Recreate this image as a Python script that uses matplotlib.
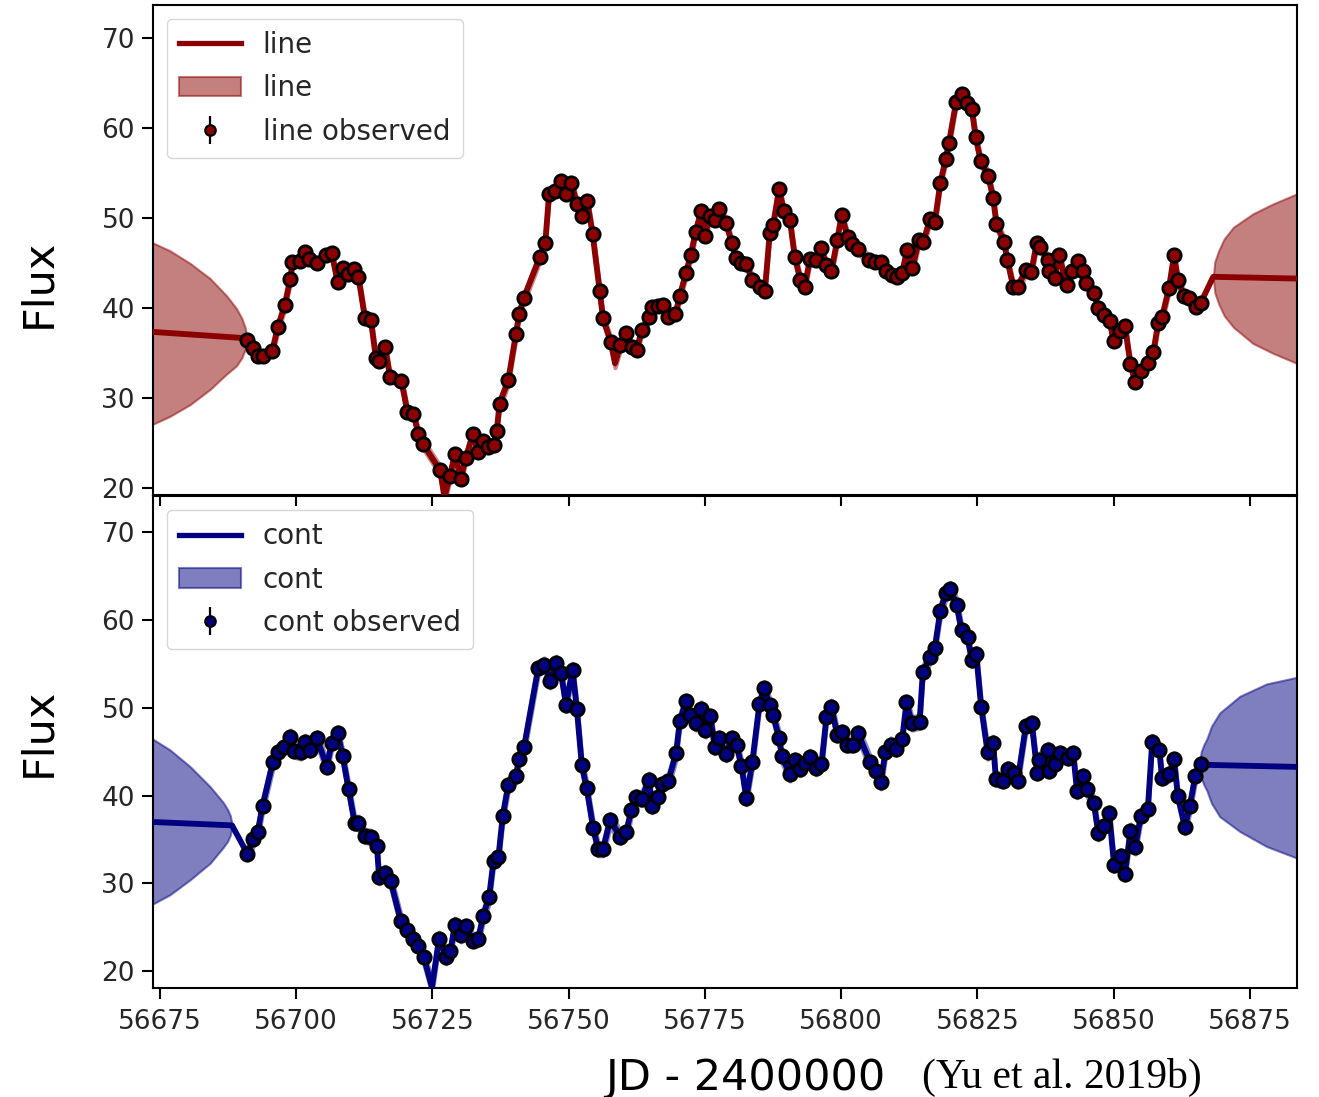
import numpy as np
import matplotlib
matplotlib.use("Agg")
import matplotlib.pyplot as plt
from matplotlib.lines import Line2D
from matplotlib.patches import Patch

# ---------------- observed light curves ----------------
line_t = [56691.0, 56692.1, 56692.9, 56693.8, 56695.6, 56696.6, 56697.9, 56698.9, 56699.3, 56700.6,
          56701.6, 56702.4, 56703.8, 56705.4, 56706.5, 56707.6, 56708.5, 56709.4, 56710.6, 56711.4,
          56712.6, 56713.7, 56714.6, 56715.2, 56716.3, 56717.2, 56719.3, 56720.4, 56721.5, 56722.4,
          56723.3, 56726.4, 56728.2, 56729.1, 56730.2, 56731.1, 56732.4, 56733.4, 56734.3, 56735.2,
          56736.2, 56736.8, 56737.3, 56738.9, 56740.3, 56740.9, 56741.8, 56744.7, 56745.7, 56746.4,
          56747.5, 56748.5, 56749.5, 56750.5, 56751.5, 56752.4, 56753.4, 56754.4, 56755.7, 56756.3,
          56757.7, 56759.5, 56760.5, 56761.6, 56762.5, 56763.4, 56764.8, 56765.3, 56766.4, 56767.3,
          56768.3, 56769.6, 56770.4, 56771.5, 56772.4, 56773.3, 56774.3, 56775.0, 56775.9, 56776.8,
          56777.6, 56778.9, 56779.9, 56780.7, 56781.7, 56782.6, 56783.7, 56785.1, 56786.0, 56786.9,
          56787.5, 56788.6, 56789.5, 56790.6, 56791.5, 56792.5, 56793.3, 56794.3, 56795.4, 56796.3,
          56797.3, 56798.2, 56799.3, 56800.1, 56801.2, 56802.0, 56803.1, 56805.1, 56806.2, 56807.3,
          56808.2, 56809.3, 56810.2, 56811.2, 56812.1, 56813.1, 56814.3, 56815.1, 56816.3, 56817.2,
          56818.2, 56819.2, 56819.8, 56821.1, 56822.1, 56823.1, 56824.0, 56824.7, 56825.6, 56827.0,
          56827.9, 56828.5, 56829.9, 56830.5, 56831.6, 56832.4, 56834.0, 56834.9, 56835.9, 56836.5,
          56838.0, 56838.2, 56839.2, 56840.0, 56841.4, 56842.4, 56843.4, 56844.4, 56845.0, 56846.4,
          56847.2, 56848.2, 56849.3, 56850.0, 56851.1, 56852.1, 56853.1, 56854.0, 56855.0, 56856.3,
          56857.3, 56858.2, 56858.9, 56860.2, 56861.1, 56861.8, 56862.9, 56863.9, 56865.1, 56866.0]
line_f = [36.5, 35.6, 34.7, 34.7, 35.3, 37.9, 40.4, 43.3, 45.1, 45.3,
          46.3, 45.5, 45.0, 45.9, 46.1, 42.9, 44.5, 43.8, 44.4, 43.5,
          38.9, 38.7, 34.5, 34.1, 35.7, 32.4, 31.9, 28.5, 28.3, 26.1,
          24.9, 22.0, 21.4, 23.8, 21.1, 23.4, 26.0, 24.0, 25.3, 24.6,
          24.8, 26.4, 29.4, 32.0, 37.1, 39.4, 41.2, 45.7, 47.3, 52.7,
          53.0, 54.1, 52.7, 53.9, 51.6, 50.3, 51.9, 48.2, 41.9, 38.9,
          36.3, 35.9, 37.3, 35.7, 35.4, 37.6, 39.0, 40.1, 40.3, 40.4,
          39.0, 39.4, 41.4, 43.9, 45.9, 48.5, 50.8, 48.0, 50.3, 49.8,
          51.0, 49.5, 47.3, 45.6, 45.0, 44.9, 43.2, 42.4, 41.9, 48.4,
          49.2, 53.2, 50.8, 49.8, 45.7, 43.2, 42.4, 45.5, 45.4, 46.7,
          44.8, 44.1, 47.6, 50.4, 47.9, 47.1, 46.6, 45.4, 45.1, 45.1,
          44.1, 43.7, 43.5, 43.9, 46.5, 44.5, 47.6, 47.4, 49.9, 49.6,
          53.9, 56.6, 58.4, 62.9, 63.8, 62.8, 62.1, 59.0, 56.4, 54.7,
          52.3, 49.4, 47.4, 45.4, 42.4, 42.4, 44.3, 44.0, 47.3, 46.8,
          45.4, 44.2, 43.4, 45.9, 42.6, 44.1, 45.3, 44.1, 42.8, 41.7,
          40.0, 39.3, 38.6, 36.4, 37.5, 38.0, 33.8, 31.8, 33.0, 33.9,
          35.1, 38.4, 39.0, 42.3, 45.9, 43.2, 41.4, 41.2, 40.1, 40.6]

cont_t = [56691.0, 56692.1, 56692.9, 56693.8, 56695.7, 56696.6, 56697.8, 56698.9, 56699.6, 56700.9,
          56701.6, 56702.5, 56703.8, 56705.6, 56706.5, 56707.6, 56708.5, 56709.6, 56710.7, 56711.4,
          56712.6, 56713.7, 56714.8, 56715.2, 56716.3, 56717.3, 56719.2, 56720.4, 56721.5, 56722.4,
          56723.4, 56726.2, 56727.5, 56728.3, 56729.1, 56730.2, 56731.1, 56732.4, 56733.4, 56734.3,
          56735.4, 56736.2, 56737.1, 56737.9, 56738.9, 56740.3, 56740.9, 56741.8, 56744.4, 56745.5,
          56746.6, 56747.7, 56748.6, 56749.5, 56750.7, 56751.5, 56752.4, 56753.3, 56754.5, 56755.4,
          56756.3, 56757.6, 56759.5, 56760.6, 56761.5, 56762.3, 56763.4, 56764.7, 56765.3, 56766.4,
          56767.2, 56768.3, 56769.7, 56770.4, 56771.5, 56772.3, 56773.3, 56774.3, 56775.1, 56776.0,
          56776.8, 56777.6, 56778.9, 56779.9, 56780.8, 56781.7, 56782.6, 56783.7, 56785.0, 56785.9,
          56786.9, 56787.5, 56788.6, 56789.1, 56790.6, 56791.5, 56792.5, 56793.3, 56794.3, 56795.4,
          56796.4, 56797.3, 56798.2, 56799.3, 56800.1, 56801.0, 56802.1, 56803.1, 56805.3, 56806.4,
          56807.3, 56808.1, 56809.1, 56810.1, 56811.2, 56812.0, 56813.0, 56814.4, 56815.0, 56816.3,
          56817.2, 56818.2, 56819.2, 56820.0, 56821.2, 56822.1, 56823.2, 56824.0, 56824.8, 56825.7,
          56826.9, 56827.9, 56828.4, 56829.8, 56830.6, 56831.7, 56832.4, 56833.9, 56835.0, 56836.0,
          56836.4, 56838.0, 56838.2, 56839.2, 56840.1, 56841.7, 56842.6, 56843.3, 56844.4, 56845.1,
          56846.4, 56847.2, 56848.2, 56849.2, 56850.1, 56851.3, 56852.1, 56853.1, 56854.0, 56855.0,
          56856.3, 56857.1, 56858.4, 56858.9, 56860.2, 56861.1, 56861.8, 56863.1, 56864.0, 56865.0,
          56866.0]
cont_f = [33.4, 35.0, 35.8, 38.8, 43.8, 45.0, 45.5, 46.7, 45.1, 44.9,
          46.1, 45.2, 46.5, 43.3, 46.0, 47.1, 44.5, 40.7, 36.9, 36.9,
          35.4, 35.3, 34.2, 30.7, 31.2, 30.3, 25.7, 24.7, 23.7, 22.9,
          21.6, 23.7, 21.6, 22.3, 25.3, 24.1, 25.1, 23.5, 23.7, 26.3,
          28.5, 32.6, 33.0, 37.7, 41.2, 42.2, 44.2, 45.5, 54.5, 54.9,
          53.0, 55.1, 53.9, 50.3, 54.3, 49.8, 43.5, 40.8, 36.3, 33.9,
          33.9, 37.2, 35.3, 35.9, 38.4, 39.8, 39.6, 41.8, 38.8, 39.8,
          41.3, 41.7, 44.8, 48.5, 50.7, 49.2, 48.2, 49.9, 47.4, 49.0,
          45.5, 46.5, 44.7, 46.5, 45.8, 43.4, 39.7, 43.8, 50.4, 52.2,
          50.3, 49.2, 46.6, 44.5, 42.4, 44.0, 43.0, 43.7, 44.4, 43.1,
          43.6, 48.9, 50.1, 46.9, 47.2, 45.8, 45.8, 47.1, 43.8, 42.8,
          41.5, 44.9, 45.8, 45.3, 46.4, 50.6, 48.2, 48.4, 54.0, 55.8,
          56.8, 61.0, 63.0, 63.5, 61.7, 58.8, 58.0, 55.4, 56.1, 50.1,
          44.9, 46.0, 41.9, 41.7, 43.0, 42.6, 41.7, 47.9, 48.2, 42.6,
          44.0, 45.2, 42.8, 43.6, 44.8, 44.3, 44.8, 40.5, 42.2, 40.7,
          39.1, 35.7, 36.5, 38.0, 32.1, 33.1, 31.1, 36.0, 34.1, 37.7,
          38.5, 46.1, 45.2, 42.0, 42.4, 44.1, 40.0, 36.4, 38.8, 42.2,
          43.6]

# ---------------- model curves outside / between the observations ----------------
line_pre_t = [56673.2, 56690.3]
line_pre_f = [37.4, 36.7]
line_post_t = [56868.3, 56884.0]
line_post_f = [43.5, 43.3]
line_dip_t = [56727.2, 56758.5]
line_dip_f = [19.0, 33.9]

cont_pre_t = [56673.2, 56688.2]
cont_pre_f = [37.0, 36.6]
cont_post_t = [56866.2, 56884.0]
cont_post_f = [43.5, 43.25]
cont_dip_t = [56724.9]
cont_dip_f = [18.2]

# uncertainty envelopes of the model before and after the monitoring season
line_band_l_t = [56673.2, 56676.8, 56680.5, 56684.2, 56687.2, 56689.0, 56690.0, 56690.6, 56691.0]
line_band_l_hi = [47.4, 46.4, 45.0, 43.3, 41.4, 40.0, 38.9, 37.9, 36.7]
line_band_l_lo = [27.0, 28.0, 29.3, 31.0, 32.7, 33.6, 34.5, 35.4, 36.5]
line_band_r_t = [56868.3, 56868.6, 56869.3, 56870.3, 56872.0, 56875.6, 56879.3, 56884.0]
line_band_r_hi = [43.5, 45.2, 46.4, 47.7, 49.0, 50.5, 51.6, 52.8]
line_band_r_lo = [43.4, 41.7, 40.5, 39.2, 37.9, 36.1, 35.0, 33.8]

cont_band_l_t = [56673.2, 56676.8, 56680.5, 56684.2, 56686.6, 56687.4, 56687.9, 56688.2]
cont_band_l_hi = [46.6, 45.2, 43.3, 41.0, 39.2, 38.4, 37.7, 36.7]
cont_band_l_lo = [27.5, 28.7, 30.4, 32.3, 34.1, 34.8, 35.5, 36.5]
cont_band_r_t = [56865.8, 56866.1, 56866.6, 56867.1, 56868.0, 56869.5, 56873.2, 56878.1, 56884.0]
cont_band_r_hi = [43.7, 45.0, 45.8, 46.4, 47.9, 49.4, 51.3, 52.7, 53.5]
cont_band_r_lo = [43.3, 42.0, 41.2, 40.6, 39.1, 37.6, 35.9, 34.2, 32.8]

xticks = [56675, 56700, 56725, 56750, 56775, 56800, 56825, 56850, 56875]
yticks = [20, 30, 40, 50, 60, 70]

TXT = "#262626"


def model_curve(t, f, pre_t, pre_f, dip_t, dip_f, post_t, post_f):
    tt = np.concatenate([pre_t, t, dip_t, post_t])
    ff = np.concatenate([pre_f, f, dip_f, post_f])
    order = np.argsort(tt)
    return tt[order], ff[order]


def panel(ax, name, color, t, f, pre, dip, post, band_l, band_r, ylim, fuzz):
    mt, mf = model_curve(np.array(t), np.array(f), pre[0], pre[1], dip[0], dip[1], post[0], post[1])
    # envelopes
    for band in (band_l, band_r):
        ax.fill_between(band[0], band[2], band[1], facecolor=color, edgecolor=color,
                        alpha=0.5, lw=1.5, zorder=1)
    # spread of the model realisations around the observed season
    inside = (mt >= t[0] - 0.5) & (mt <= t[-1] + 0.5)
    ax.fill_between(mt[inside], mf[inside] - fuzz, mf[inside] + fuzz, color=color,
                    alpha=0.45, lw=3.0, zorder=2)
    ax.plot(mt, mf, color=color, lw=4.2, zorder=3, solid_joinstyle="round")
    ax.errorbar(t, f, yerr=0.4, fmt="o", color="black", ecolor="black", elinewidth=1.2,
                ms=9.6, mfc=color, mec="black", mew=2.0, zorder=4)

    handles = [Line2D([], [], color=color, lw=3.8),
               Patch(facecolor=color, edgecolor=color, alpha=0.5, lw=1.5),
               ax.errorbar([], [], yerr=[], fmt="o", color="black", ms=7.5, mfc=color,
                           mec="black", mew=1.6, elinewidth=1.6)]
    ax.legend(handles, [name, name, name + " observed"], loc="upper left",
              fontsize=20, handlelength=2.2, handletextpad=0.8, borderpad=0.45,
              labelspacing=0.55, borderaxespad=0.5, framealpha=0.8,
              edgecolor="0.8", labelcolor=TXT)

    ax.set_xlim(56673.7, 56883.6)
    ax.set_ylim(*ylim)
    ax.set_xticks(xticks)
    ax.set_yticks(yticks)
    ax.tick_params(axis="both", direction="out", length=8, width=1.5, labelsize=19,
                   colors="black", labelcolor=TXT, pad=5)
    for s in ax.spines.values():
        s.set_linewidth(1.5)


fig = plt.figure(figsize=(13.19, 10.97), dpi=100)
ax1 = fig.add_axes([0.116, 0.549, 0.867, 0.4466])
ax2 = fig.add_axes([0.116, 0.0994, 0.867, 0.4486])
ax2.patch.set_alpha(0.0)

panel(ax1, "line", "#8b0000", line_t, line_f,
      (line_pre_t, line_pre_f), (line_dip_t, line_dip_f), (line_post_t, line_post_f),
      (line_band_l_t, line_band_l_hi, line_band_l_lo),
      (line_band_r_t, line_band_r_hi, line_band_r_lo), (19.3, 73.7), 0.5)
panel(ax2, "cont", "#000080", cont_t, cont_f,
      (cont_pre_t, cont_pre_f), (cont_dip_t, cont_dip_f), (cont_post_t, cont_post_f),
      (cont_band_l_t, cont_band_l_hi, cont_band_l_lo),
      (cont_band_r_t, cont_band_r_hi, cont_band_r_lo), (18.1, 74.1), 0.75)

ax1.tick_params(axis="x", labelbottom=False)
ax2.tick_params(axis="x", labelsize=19, pad=7)

fig.text(0.029, 0.742, "Flux", rotation=90, fontsize=31, ha="center", va="center", color="black")
fig.text(0.029, 0.332, "Flux", rotation=90, fontsize=31, ha="center", va="center", color="black")
fig.text(0.565, 0.017, "JD - 2400000", fontsize=31, ha="center", va="center", color="black")
fig.text(0.805, 0.018, "(Yu et al. 2019b)", fontsize=30, ha="center", va="center",
         color="black", family="Liberation Serif")

fig.savefig("out.png", dpi=100)
